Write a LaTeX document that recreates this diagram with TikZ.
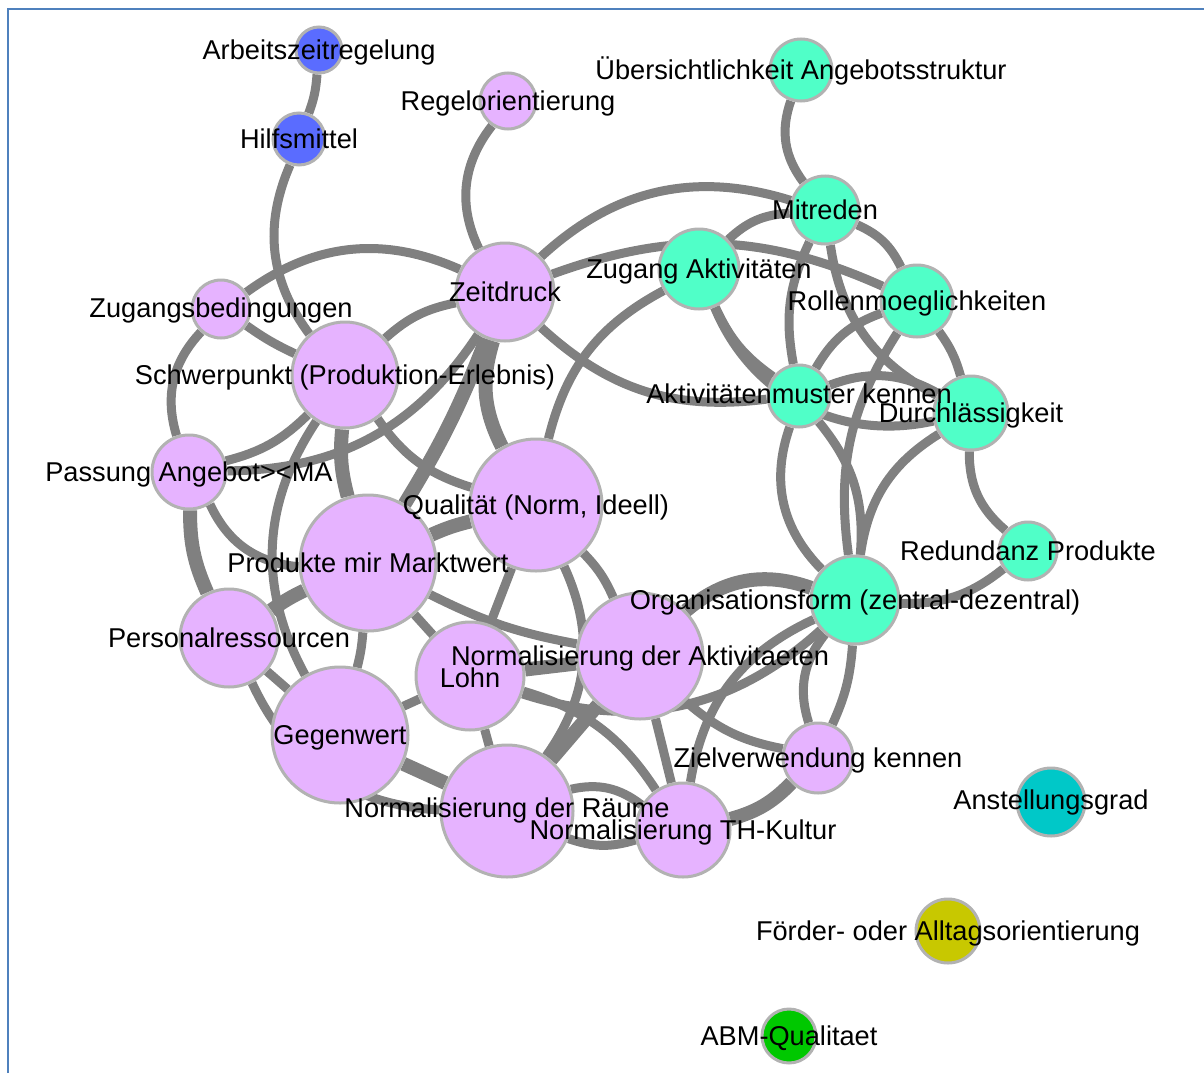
\documentclass[tikz,border=0pt]{standalone}
\usepackage{fontspec}
\setmainfont{Liberation Sans}
\usetikzlibrary{backgrounds}
\definecolor{pinkfill}{RGB}{230,179,255}
\definecolor{aquafill}{RGB}{80,255,200}
\definecolor{bluefill}{RGB}{90,108,255}
\definecolor{tealfill}{RGB}{0,200,200}
\definecolor{olivefill}{RGB}{200,200,0}
\definecolor{greenfill}{RGB}{0,200,0}
\definecolor{edgegray}{RGB}{128,128,128}
\definecolor{rimgray}{RGB}{178,178,178}
\definecolor{framecol}{RGB}{79,129,189}
\begin{document}
\begin{tikzpicture}[x=1pt,y=-1pt,
  vertex/.style={circle, draw=rimgray, line width=3pt, inner sep=0pt, minimum size=#1},
  pinkv/.style={vertex=#1, fill=pinkfill},
  aquav/.style={vertex=#1, fill=aquafill},
  bluev/.style={vertex=#1, fill=bluefill},
  lab/.style={font=\fontsize{27.2}{30}\selectfont, inner sep=0pt, text height=19.6pt, text depth=0pt, text=black},
  ln/.style={draw=edgegray, line width=9pt},
  lnw/.style={draw=edgegray, line width=14pt}]
\useasboundingbox (0,0) rectangle (1204,1073);
\draw[framecol, line width=2pt] (8,1073) -- (8,9) -- (1204,9);

% vertices
\node[bluev=46]  (arb)     at (319,50)  {};
\node[bluev=52]  (hilf)    at (299,139) {};
\node[pinkv=56]  (regel)   at (508,101) {};
\node[aquav=62]  (uebers)  at (801,70)  {};
\node[aquav=68]  (mitr)    at (825,210) {};
\node[aquav=80]  (zugakt)  at (699,269) {};
\node[aquav=72]  (rolle)   at (917,301) {};
\node[pinkv=98]  (zeit)    at (505,292) {};
\node[pinkv=58]  (zugbed)  at (221,309) {};
\node[pinkv=106] (schwer)  at (345,375) {};
\node[aquav=62]  (aktm)    at (799,396) {};
\node[aquav=74]  (durch)   at (971,413) {};
\node[pinkv=74]  (pass)    at (189,472) {};
\node[pinkv=132] (qual)    at (536,505) {};
\node[pinkv=136] (prod)    at (368,563) {};
\node[aquav=58]  (redund)  at (1028,551) {};
\node[aquav=88]  (org)     at (855,600) {};
\node[pinkv=98]  (pers)    at (229,638) {};
\node[pinkv=126] (ndakt)   at (640,656) {};
\node[pinkv=108] (lohn)    at (470,676) {};
\node[pinkv=136] (gegen)   at (340,735) {};
\node[pinkv=70]  (ziel)    at (818,758) {};
\node[vertex=68, fill=tealfill]  (anst)    at (1051,802) {};
\node[pinkv=132] (raeume)  at (507,811) {};
\node[pinkv=94]  (thk)     at (683,830) {};
\node[vertex=64, fill=olivefill] (foerder) at (948,931) {};
\node[vertex=54, fill=greenfill] (abm)     at (789,1036) {};

% connections
\begin{pgfonlayer}{background}
\draw[ln] (arb) to[bend left=8] (hilf);
\draw[ln] (hilf) to[bend right=30] (schwer);
\draw[ln] (regel) to[bend right=32] (zeit);
\draw[ln] (uebers) to[bend right=28] (mitr);
\draw[ln] (zugbed) to[bend left=30] (zeit);
\draw[ln] (zugbed) to[bend right=30] (pass);
\draw[ln] (zugbed) to[bend right=5] (schwer);
\draw[lnw] (pass) to[bend right=12] (pers);
\draw[ln] (pass) to[bend right=15] (schwer);
\draw[ln] (pass) to[bend right=28] (zeit);
\draw[ln] (pass) to[bend right=30] (prod);
\draw[ln] (zeit) to[bend left=30] (mitr);
\draw[ln] (zeit) to[bend left=22] (rolle);
\draw[ln] (zeit) to[bend right=25] (aktm);
\draw[ln] (zeit) to[bend right=15] (schwer);
\draw[lnw] (zeit) to[bend right=22] (qual);
\draw[lnw] (zeit) to[bend left=5] (prod);
\draw[ln] (zugakt) to[bend left=20] (mitr);
\draw[ln] (qual) to[bend left=24] (zugakt);
\draw[ln] (zugakt) to[bend right=15] (aktm);
\draw[ln] (zugakt) to[bend right=40] (durch);
\draw[ln] (mitr) to[bend right=18] (aktm);
\draw[ln] (mitr) to[bend right=27] (durch);
\draw[ln] (mitr) to[bend left=20] (rolle);
\draw[ln] (rolle) to[bend left=10] (durch);
\draw[ln] (rolle) to[bend right=20] (aktm);
\draw[ln] (rolle) to[bend right=20] (org);
\draw[ln] (aktm) to[bend left=25] (durch);
\draw[ln] (aktm) to[bend right=32] (org);
\draw[ln] (aktm) to[bend left=22] (org);
\draw[ln] (durch) to[bend right=25] (org);
\draw[ln] (durch) to[bend right=25] (redund);
\draw[ln] (redund) to[bend left=20] (org);
\draw[ln] (org) to[bend right=28] (ziel);
\draw[ln] (org) to[bend left=10] (ziel);
\draw[lnw] (ndakt) to[bend left=30] (org);
\draw[ln] (lohn) to[bend right=30] (org);
\draw[ln] (org) to[bend right=28] (thk);
\draw[ln] (ndakt) to[bend right=15] (ziel);
\draw[lnw] (thk) to[bend right=15] (ziel);
\draw[ln] (schwer) to[bend right=31] (gegen);
\draw[lnw] (schwer) to[bend right=10] (prod);
\draw[ln] (schwer) to[bend right=19] (qual);
\draw[lnw] (pers) to[bend left=5] (prod);
\draw[ln] (pers) to (gegen);
\draw[ln] (pers) to[bend right=31] (raeume);
\draw[lnw] (prod) to[bend left=5] (qual);
\draw[ln] (prod) to[bend right=8] (ndakt);
\draw[ln] (prod) to (lohn);
\draw[ln] (prod) to[bend left=5] (gegen);
\draw[ln] (qual) to (lohn);
\draw[ln] (qual) to[bend left=30] (raeume);
\draw[ln] (qual) to[bend left=10] (ndakt);
\draw[lnw] (lohn) to (ndakt);
\draw[ln] (gegen) to (lohn);
\draw[lnw] (gegen) to (raeume);
\draw[ln] (lohn) to (raeume);
\draw[lnw] (raeume) to (ndakt);
\draw[ln] (raeume) to[bend left=25] (thk);
\draw[ln] (raeume) to[bend right=18] (thk);
\draw[ln] (ndakt) to (thk);
\draw[ln] (lohn) to[bend left=20] (thk);
\end{pgfonlayer}

% labels
\node[lab] (t-arb)     at (arb)     {Arbeitszeitregelung};
\node[lab] (t-hilf)    at (hilf)    {Hilfsmittel};
\node[lab] (t-regel)   at (regel)   {Regelorientierung};
\node[lab] (t-uebers)  at (uebers)  {Übersichtlichkeit Angebotsstruktur};
\node[lab] (t-mitr)    at (mitr)    {Mitreden};
\node[lab] (t-zugakt)  at (zugakt)  {Zugang Aktivitäten};
\node[lab] (t-rolle)   at (rolle)   {Rollenmoeglichkeiten};
\node[lab] (t-zeit)    at (zeit)    {Zeitdruck};
\node[lab] (t-zugbed)  at ([yshift=1]zugbed)  {Zugangsbedingungen};
\node[lab] (t-schwer)  at (schwer)  {Schwerpunkt (Produktion-Erlebnis)};
\node[lab] (t-aktm)    at ([yshift=2]aktm)    {Aktivitätenmuster kennen};
\node[lab] (t-durch)   at (durch)   {Durchlässigkeit};
\node[lab] (t-pass)    at (pass)    {Passung Angebot><MA};
\node[lab] (t-qual)    at (qual)    {Qualität (Norm, Ideell)};
\node[lab] (t-prod)    at (prod)    {Produkte mir Marktwert};
\node[lab] (t-redund)  at (redund)  {Redundanz Produkte};
\node[lab] (t-org)     at (org)     {Organisationsform (zentral-dezentral)};
\node[lab] (t-pers)    at (pers)    {Personalressourcen};
\node[lab] (t-ndakt)   at (ndakt)   {Normalisierung der Aktivitaeten};
\node[lab] (t-lohn)    at ([yshift=-2]lohn) {Lohn};
\node[lab] (t-gegen)   at (gegen)   {Gegenwert};
\node[lab] (t-ziel)    at (ziel)    {Zielverwendung kennen};
\node[lab] (t-anst)    at ([yshift=2]anst)    {Anstellungsgrad};
\node[lab] (t-raeume)  at ([yshift=3]raeume) {Normalisierung der Räume};
\node[lab] (t-thk)     at (thk)     {Normalisierung TH-Kultur};
\node[lab] (t-foerder) at (foerder) {Förder- oder Alltagsorientierung};
\node[lab] (t-abm)     at (abm)     {ABM-Qualitaet};
\end{tikzpicture}
\end{document}
